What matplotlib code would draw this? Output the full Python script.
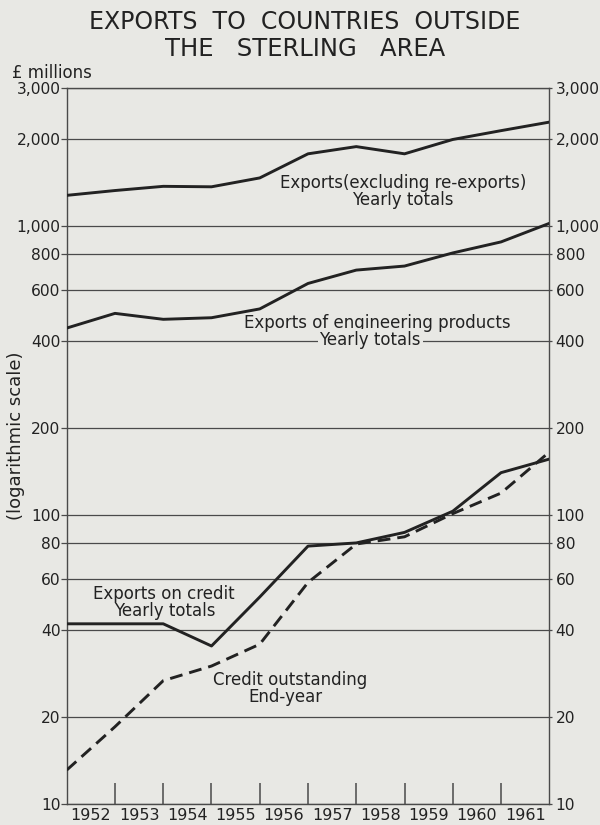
import numpy as np
import matplotlib
matplotlib.use("Agg")
import matplotlib.pyplot as plt
from matplotlib.ticker import FixedLocator, NullLocator, FixedFormatter

# ---- data (values at year boundaries, start 1952 ... end 1961) ----
years = ['1952', '1953', '1954', '1955', '1956', '1957', '1958', '1959', '1960', '1961']
exports_total = [1275, 1325, 1370, 1365, 1465, 1775, 1880, 1775, 1990, 2135, 2285]
engineering = [443, 498, 475, 481, 516, 632, 703, 726, 806, 880, 1020]
credit_exports = [42, 42, 42, 35.2, 52, 78, 80, 87, 103, 140, 156]
credit_outstanding = [13.1, 18.5, 26.7, 30.0, 35.7, 58.4, 79.3, 84, 101, 119, 165]
ytick_values = [10, 20, 40, 60, 80, 100, 200, 400, 600, 800, 1000, 2000, 3000]
ytick_labels = ['10', '20', '40', '60', '80', '100', '200', '400', '600', '800',
                '1,000', '2,000', '3,000']

BG = '#e8e8e4'
INK = '#222222'
GRID = '#4a4a4a'

plt.rcParams['font.family'] = ['DejaVu Sans']

fig = plt.figure(figsize=(6, 8.25), dpi=100, facecolor=BG)
ax = fig.add_axes([0.1112, 0.0255, 0.8043, 0.8679])
ax.set_facecolor(BG)
ax.set_yscale('log')
ax.set_ylim(10, 3000)
ax.set_xlim(0, len(years))

x = np.arange(len(exports_total))

# gridlines
for v in ytick_values:
    ax.axhline(v, color=GRID, lw=0.9, zorder=1)

ax.plot(x, exports_total, color=INK, lw=2.1, zorder=3, solid_joinstyle='round')
ax.plot(x, engineering, color=INK, lw=2.1, zorder=3, solid_joinstyle='round')
ax.plot(x, credit_exports, color=INK, lw=2.1, zorder=3, solid_joinstyle='round')
ax.plot(x, credit_outstanding, color=INK, lw=2.1, zorder=3, dashes=(4.4, 2.4))

# y ticks both sides
ax.yaxis.set_major_locator(FixedLocator(ytick_values))
ax.yaxis.set_major_formatter(FixedFormatter(ytick_labels))
ax.yaxis.set_minor_locator(NullLocator())
ax.tick_params(axis='y', which='major', direction='out', length=4, width=0.9,
               color=GRID, pad=0.5, labelsize=11.2, labelcolor=INK,
               left=True, labelleft=True)
ax.tick_params(axis='y', which='major', right=True, labelright=True)
for t in ax.yaxis.get_major_ticks():
    t.tick2line.set_markersize(2)
    t.label2.set_x(1.0)

# x ticks: boundary marks inside, year labels centred in intervals
ax.set_xticks(np.arange(1, len(years)))
ax.set_xticklabels([])
ax.tick_params(axis='x', which='major', direction='in', length=15, width=1.1,
               color=GRID)
ax.set_xticks(np.arange(len(years)) + 0.5, minor=True)
ax.set_xticklabels(years, minor=True)
ax.tick_params(axis='x', which='minor', length=0, pad=3, labelsize=11.5,
               labelcolor=INK)

for s in ax.spines.values():
    s.set_color(GRID)
    s.set_linewidth(1.0)

# annotations
tk = dict(transform=ax.transAxes, ha='center', va='center', fontsize=12, color=INK, zorder=4)
ax.text(0.697, 0.867, 'Exports(excluding re-exports)', **tk)
ax.text(0.697, 0.8436, 'Yearly totals', **tk)
ax.text(0.6436, 0.6722, 'Exports of engineering products', **tk)
ax.text(0.629, 0.648, 'Yearly totals',
        bbox=dict(facecolor=BG, edgecolor='none', pad=1.5), **tk)
ax.text(0.2009, 0.2936, 'Exports on credit', **tk)
ax.text(0.2029, 0.2696, 'Yearly totals', **tk)
ax.text(0.4637, 0.1732, 'Credit outstanding', **tk)
ax.text(0.454, 0.1499, 'End-year', **tk)

# titles and labels
fig.text(0.508, 1 - 22 / 825, 'EXPORTS  TO  COUNTRIES  OUTSIDE', ha='center', va='center',
         fontsize=17, color=INK)
fig.text(0.508, 1 - 49 / 825, 'THE   STERLING   AREA', ha='center', va='center',
         fontsize=17.5, color=INK)
fig.text(0.02, 1 - 73 / 825, '£ millions', ha='left', va='center', fontsize=12, color=INK)
fig.text(0.027, 1 - 436 / 825, '(logarithmic scale)', ha='center', va='center',
         rotation=90, fontsize=13, color=INK)

fig.savefig('out.png', dpi=100, facecolor=BG)
